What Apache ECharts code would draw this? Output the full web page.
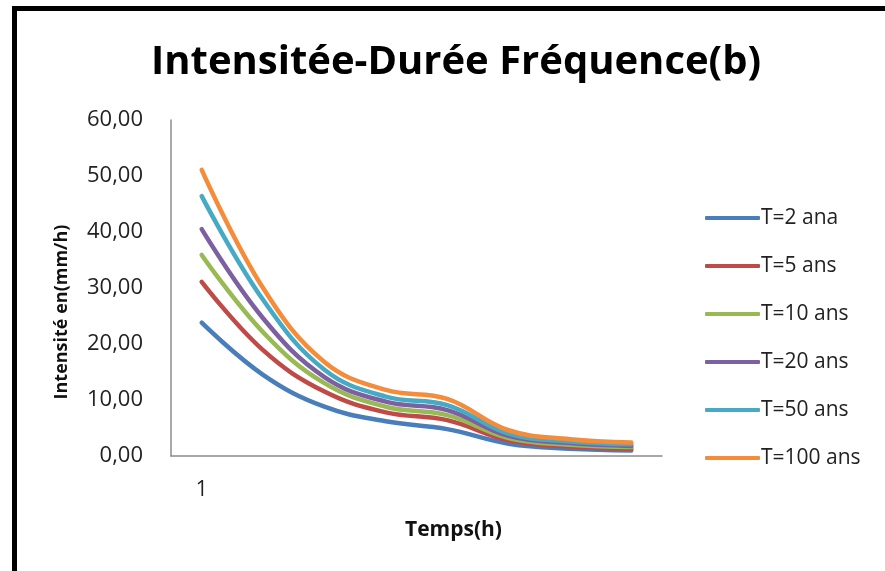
<!DOCTYPE html>
<html>
<head>
    <meta charset="utf-8">
    <title>Intensitée-Durée Fréquence(b)</title>
    <script src="https://cdn.jsdelivr.net/npm/echarts@6/dist/echarts.min.js"></script>
    <style>
        html, body {
            margin: 0;
            padding: 0;
            background: #ffffff;
        }

        .frame {
            position: absolute;
            left: 12px;
            top: 6px;
            width: 880px;
            height: 570px;
            border-left: 5px solid #000;
            border-top: 5px solid #000;
        }

        #chart {
            position: absolute;
            left: 0;
            top: 0;
            width: 885px;
            height: 571px;
        }
    </style>
</head>
<body>
<div class="frame"></div>
<div id="chart"></div>
<script>
// durées (catégories) et libellés de l'axe X
var categories = ['1', '2', '3', '4', '5', '6', '7', '8'];
var xLabels = ['1', '', '', '', '', '', '', ''];
var yTicks = [0, 10, 20, 30, 40, 50, 60];

// intensités (mm/h) par période de retour
var t2 = [23.8, 14.5, 8.8, 6.2, 4.8, 2.2, 1.3, 1.0];
var t5 = [31.1, 18.9, 11.5, 7.8, 6.4, 2.8, 1.7, 1.3];
var t10 = [35.9, 22.1, 13.0, 8.8, 7.3, 3.2, 2.0, 1.6];
var t20 = [40.5, 24.6, 14.1, 9.7, 8.2, 3.6, 2.3, 1.8];
var t50 = [46.4, 27.9, 15.4, 10.6, 9.1, 4.0, 2.6, 2.1];
var t100 = [51.1, 30.0, 16.8, 11.8, 10.2, 4.6, 3.0, 2.4];

var seriesNames = ['T=2 ana', 'T=5 ans', 'T=10 ans', 'T=20 ans', 'T=50 ans', 'T=100 ans'];
var seriesData = [t2, t5, t10, t20, t50, t100];
var colors = ['#4A7EBB', '#BE4B48', '#98B954', '#7D60A0', '#46AAC5', '#F38D3C'];

var font = '"Open Sans", "Noto Sans", sans-serif';

var chart = echarts.init(document.getElementById('chart'));

var series = [];
for (var i = 0; i < seriesNames.length; i++) {
    series.push({
        name: seriesNames[i],
        type: 'line',
        smooth: 0.4,
        symbol: 'none',
        data: seriesData[i],
        lineStyle: {width: 4.5, color: colors[i], cap: 'round'},
        itemStyle: {color: colors[i]}
    });
}

var option = {
    backgroundColor: 'transparent',
    animation: false,
    color: colors,
    title: {
        text: 'Intensitée-Durée Fréquence(b)',
        left: 146,
        top: 38,
        textStyle: {
            fontFamily: font,
            fontWeight: 'bold',
            fontSize: 40,
            color: '#000'
        }
    },
    legend: {
        orient: 'vertical',
        left: 700,
        top: 201,
        itemWidth: 55,
        itemHeight: 4,
        itemGap: 24,
        icon: 'roundRect',
        data: seriesNames,
        textStyle: {
            fontFamily: font,
            fontSize: 21,
            lineHeight: 24,
            color: '#222',
            padding: [0, 0, 0, -4]
        }
    },
    grid: {
        left: 171,
        right: 223,
        top: 120,
        bottom: 115
    },
    xAxis: {
        type: 'category',
        data: categories,
        boundaryGap: true,
        name: 'Temps(h)',
        nameLocation: 'middle',
        nameGap: 64,
        nameTextStyle: {
            fontFamily: font,
            fontWeight: 'bold',
            fontSize: 21,
            color: '#111',
            padding: [0, 0, 0, 74]
        },
        axisLine: {lineStyle: {color: '#8c8c8c', width: 1.5}},
        axisTick: {show: false},
        axisLabel: {
            interval: 0,
            margin: 24,
            fontFamily: font,
            fontSize: 21,
            color: '#222',
            formatter: function (v, idx) {
                return xLabels[idx];
            }
        }
    },
    yAxis: {
        type: 'value',
        min: yTicks[0],
        max: yTicks[yTicks.length - 1],
        interval: 10,
        name: 'Intensité en(mm/h)',
        nameLocation: 'middle',
        nameGap: 100,
        nameRotate: 90,
        nameTextStyle: {
            fontFamily: font,
            fontWeight: 'bold',
            fontSize: 18,
            color: '#111',
            padding: [0, 48, 0, 0]
        },
        axisLine: {show: true, lineStyle: {color: '#8c8c8c', width: 1.5}},
        axisTick: {show: false},
        splitLine: {show: false},
        axisLabel: {
            margin: 28,
            fontFamily: font,
            fontSize: 22,
            color: '#222',
            formatter: function (v) {
                return v.toFixed(2).replace('.', ',');
            }
        }
    },
    series: series
};

chart.setOption(option);
</script>
</body>
</html>
